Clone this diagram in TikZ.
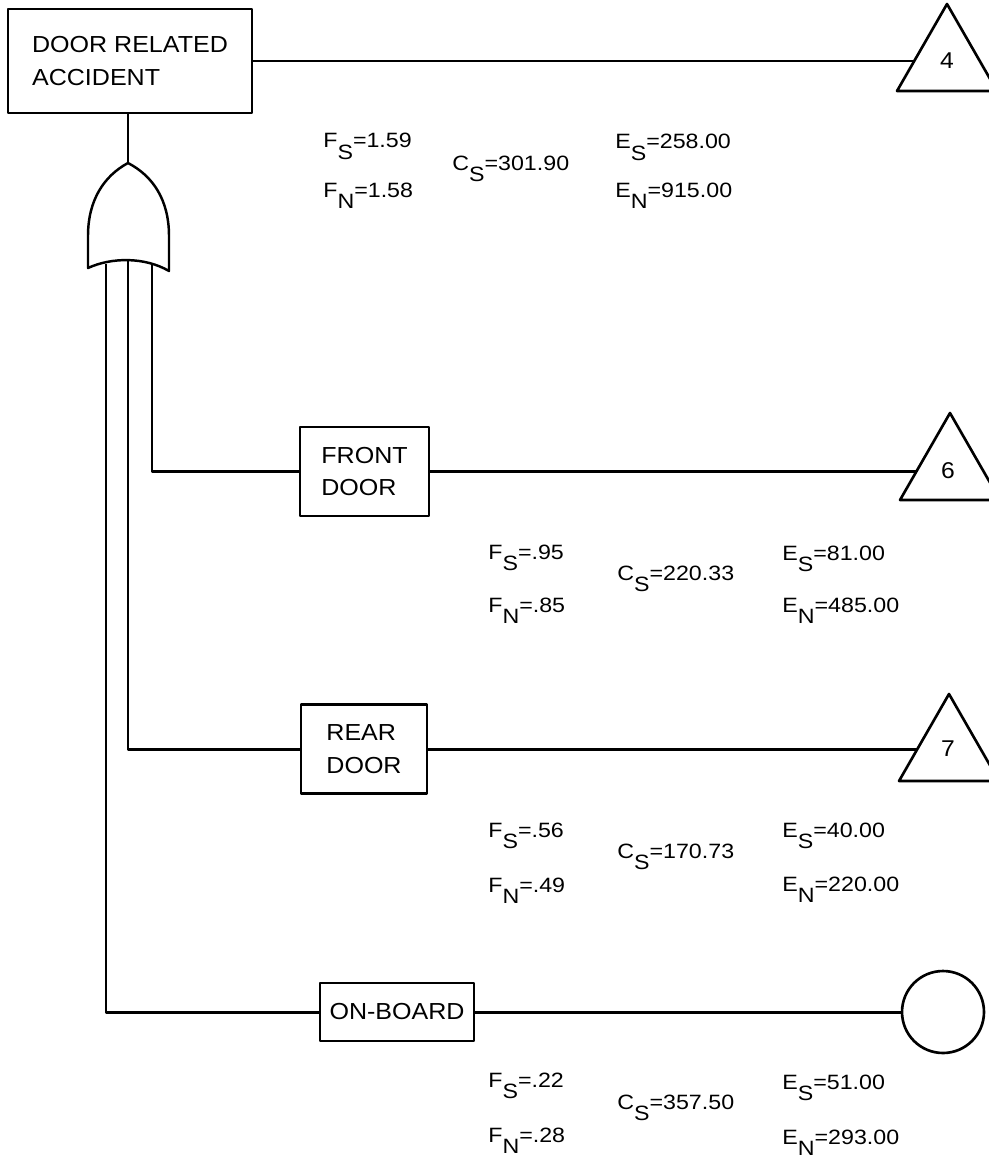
\documentclass[tikz,border=0pt]{standalone}
\usepackage{fontspec}
\setmainfont{Liberation Sans}
\newfontfamily\boxfont{Liberation Sans}[FakeStretch=1.08]
\newfontfamily\labfont{Liberation Sans}[FakeStretch=1.12]
\newcommand\lblx[3]{#1\raisebox{-6.5pt}{#2}#3}
\begin{document}
\begin{tikzpicture}[x=0.02cm, y=-0.02cm, line join=round]
\tikzset{
  box/.style={draw, line width=1.4pt, inner sep=0pt, align=left,
    font=\boxfont\fontsize{13.2}{18.5}\selectfont},
  wire/.style={line width=1.7pt},
  lab/.style={font=\labfont\fontsize{11.8}{13}\selectfont, anchor=base west, inner sep=0pt},
  tri/.style={line width=1.5pt},
  trinum/.style={font=\boxfont\fontsize{13}{15}\selectfont, inner sep=0pt},
  gate/.style={line width=1.4pt}
}
\useasboundingbox (0,0) rectangle (988,1159);

% boxes
\node[box, minimum width=4.88cm, minimum height=2.08cm] (top) at (130,61) {DOOR RELATED\\ACCIDENT};
\node[box, minimum width=2.58cm, minimum height=1.78cm] (front) at (364.5,471.5) {FRONT\\DOOR};
\node[box, minimum width=2.52cm, minimum height=1.78cm] (rear) at (364,749) {REAR\\DOOR};
\node[box, minimum width=3.08cm, minimum height=1.16cm] (onboard) at (397,1012) {ON-BOARD};

% transfer triangles
\coordinate (t4a) at (897,91); \coordinate (t4b) at (947,4); \coordinate (t4c) at (997,91);
\draw[tri] (t4a) -- (t4b) -- (t4c) -- cycle;
\coordinate (t4in) at (914,61);
\node[trinum] (n4) at (947,61) {4};

\coordinate (t6a) at (900,500); \coordinate (t6b) at (950,413); \coordinate (t6c) at (1000,500);
\draw[tri] (t6a) -- (t6b) -- (t6c) -- cycle;
\coordinate (t6in) at (916,471.5);
\node[trinum] (n6) at (948,471) {6};

\coordinate (t7a) at (899,781); \coordinate (t7b) at (949,694); \coordinate (t7c) at (999,781);
\draw[tri] (t7a) -- (t7b) -- (t7c) -- cycle;
\coordinate (t7in) at (917,749);
\node[trinum] (n7) at (948,749) {7};

% undeveloped event circle
\node[draw, circle, line width=1.5pt, minimum size=1.64cm, inner sep=0pt] (circ) at (943,1012) {};

% OR gate
\coordinate (gtip) at (128,163);
\draw[gate] (gtip) .. controls (104,176) and (88,200) .. (88,236) -- (88,268)
  .. controls (112,257) and (145,257) .. (169,271) -- (169,236)
  .. controls (169,200) and (153,176) .. (gtip) -- cycle;
\coordinate (i1) at (106,264);
\coordinate (i2) at (128,261);
\coordinate (i3) at (152,263);

% connectors
\draw[wire] (top.east) -- (t4in);
\draw[wire] (gtip |- top.south) -- (gtip);
\draw[wire] (i3) |- (front.west);
\draw[wire] (i2) |- (rear.west);
\draw[wire] (i1) |- (onboard.west);
\draw[wire] (front.east) -- (t6in);
\draw[wire] (rear.east) -- (t7in);
\draw[wire] (onboard.east) -- (circ.west);

% labels row 0
\node[lab] (fs0) at (323,148) {\lblx{F}{S}{=1.59}};
\node[lab] (fn0) at (323,197) {\lblx{F}{N}{=1.58}};
\node[lab] (cs0) at (452,170) {\lblx{C}{S}{=301.90}};
\node[lab] (es0) at (615,149) {\lblx{E}{S}{=258.00}};
\node[lab] (en0) at (615,197) {\lblx{E}{N}{=915.00}};
% row 1
\node[lab] (fs1) at (488,559) {\lblx{F}{S}{=.95}};
\node[lab] (fn1) at (488,612) {\lblx{F}{N}{=.85}};
\node[lab] (cs1) at (617,580) {\lblx{C}{S}{=220.33}};
\node[lab] (es1) at (782,560) {\lblx{E}{S}{=81.00}};
\node[lab] (en1) at (782,612) {\lblx{E}{N}{=485.00}};
% row 2
\node[lab] (fs2) at (488,837) {\lblx{F}{S}{=.56}};
\node[lab] (fn2) at (488,892) {\lblx{F}{N}{=.49}};
\node[lab] (cs2) at (617,858) {\lblx{C}{S}{=170.73}};
\node[lab] (es2) at (782,837) {\lblx{E}{S}{=40.00}};
\node[lab] (en2) at (782,891) {\lblx{E}{N}{=220.00}};
% row 3
\node[lab] (fs3) at (488,1087) {\lblx{F}{S}{=.22}};
\node[lab] (fn3) at (488,1142) {\lblx{F}{N}{=.28}};
\node[lab] (cs3) at (617,1109) {\lblx{C}{S}{=357.50}};
\node[lab] (es3) at (782,1089) {\lblx{E}{S}{=51.00}};
\node[lab] (en3) at (782,1144) {\lblx{E}{N}{=293.00}};
\end{tikzpicture}
\end{document}
